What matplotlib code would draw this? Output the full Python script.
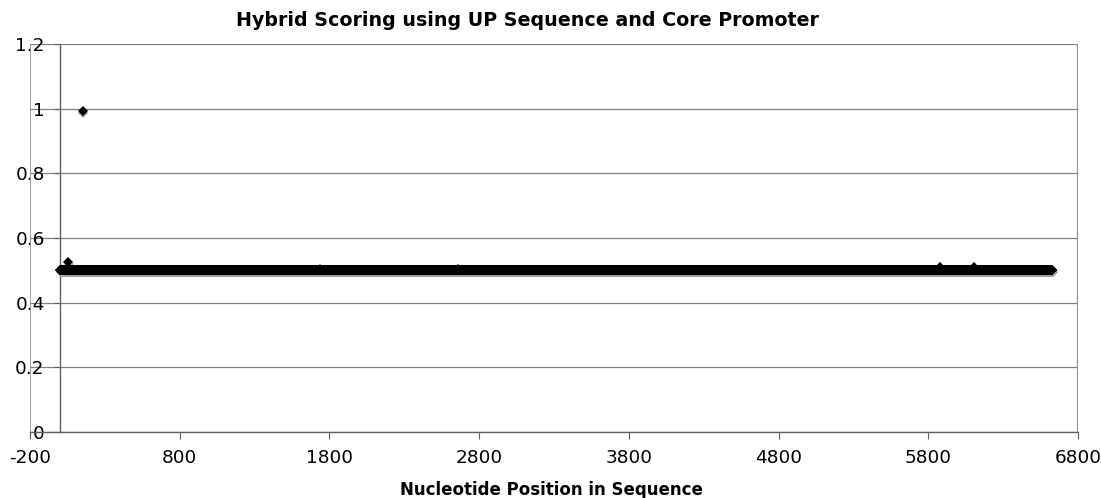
import numpy as np
import matplotlib
matplotlib.use("Agg")
import matplotlib.pyplot as plt
import matplotlib.transforms as mtransforms

# ---- data ----
seq_start = 1
seq_end = 6630
baseline_score = 0.5
peak_positions = [54, 154, 1735, 2656, 5877, 6106]
peak_scores = [0.526, 0.992, 0.503, 0.503, 0.51, 0.51]

x_ticks = [-200, 800, 1800, 2800, 3800, 4800, 5800, 6800]
y_ticks = [0, 0.2, 0.4, 0.6, 0.8, 1.0, 1.2]
y_tick_labels = ["0", "0.2", "0.4", "0.6", "0.8", "1", "1.2"]

title = "Hybrid Scoring using UP Sequence and Core Promoter"
xlabel = "Nucleotide Position in Sequence"

positions = np.arange(seq_start, seq_end + 1, 2)
scores = np.full(positions.shape, baseline_score, dtype=float)
xs = np.concatenate([positions, peak_positions])
ys = np.concatenate([scores, peak_scores])

# ---- figure ----
W, H = 1101, 498
fig = plt.figure(figsize=(W / 100, H / 100), dpi=100)
left, right, top, bottom = 30, 1078, 44, 432
ax = fig.add_axes([left / W, 1 - bottom / H, (right - left) / W, (bottom - top) / H])

ax.set_xlim(-200, 6800)
ax.set_ylim(0, 1.2)

# grid
ax.set_yticks(y_ticks)
ax.set_yticklabels(y_tick_labels)
ax.set_xticks(x_ticks)
ax.set_xticklabels([str(v) for v in x_ticks])
ax.yaxis.grid(True, color="#808080", linewidth=0.9)
ax.set_axisbelow(True)

# spines
for s in ["top", "right"]:
    ax.spines[s].set_visible(False)
ax.spines["left"].set_position(("data", 0))
ax.spines["left"].set_color("#606060")
ax.spines["left"].set_linewidth(1.0)
ax.spines["bottom"].set_color("#606060")
ax.spines["bottom"].set_linewidth(1.0)
ax.axvline(-200, color="#909090", linewidth=1.2, zorder=1)
ax.axvline(6800, color="#909090", linewidth=1.6, zorder=1)

ax.tick_params(axis="y", direction="out", length=4, color="#606060",
               labelsize=13.3, pad=7)
ax.tick_params(axis="x", direction="out", length=5, color="#606060",
               labelsize=13.3, pad=7)

# shadow + markers
shadow_tr = mtransforms.offset_copy(ax.transData, fig=fig, x=0.5, y=-2.0, units="dots")
ax.plot(xs, ys, linestyle="none", marker="D", markersize=5.2,
        color="#a0a0a0", markeredgewidth=0, transform=shadow_tr, zorder=3)
ax.plot(xs, ys, linestyle="none", marker="D", markersize=5.2,
        color="black", markeredgewidth=0, zorder=4)

fig.text(527 / W, 1 - 20 / H, title, ha="center", va="center",
         fontsize=13.7, fontweight="bold")
fig.text(551 / W, 1 - 490 / H, xlabel, ha="center", va="center",
         fontsize=12, fontweight="bold")

fig.savefig("out.png", dpi=100)
